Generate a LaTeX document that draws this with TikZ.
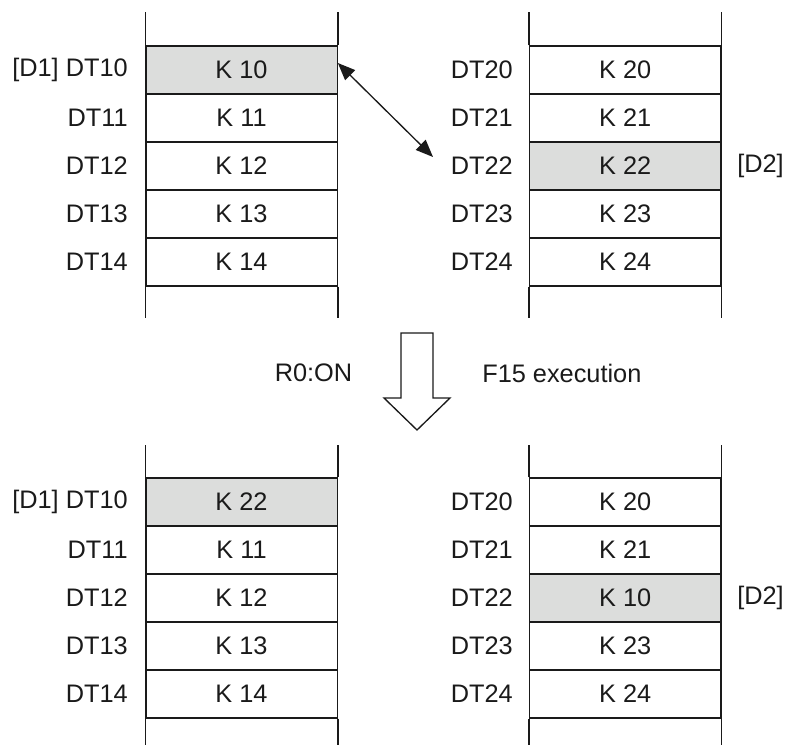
\documentclass[tikz,border=0pt]{standalone}
\usepackage{fontspec}
\setmainfont{Liberation Sans}
\usetikzlibrary{arrows.meta}
\definecolor{ink}{HTML}{1A1A1A}
\definecolor{cellgray}{HTML}{DCDDDC}

\begin{document}
\begin{tikzpicture}[x=0.75pt,y=-0.75pt,
  every node/.style={font=\fontsize{19}{22}\selectfont,text=ink},
  cell/.style={draw=ink,line width=1pt,minimum width=143.5pt,minimum height=36pt,inner sep=0pt},
  hit/.style={cell,fill=cellgray},
  reg/.style={anchor=east,inner sep=0pt},
  rail/.style={draw=ink,line width=1pt},
  swap/.style={{Triangle[length=13pt,width=10.5pt]}-{Triangle[length=13pt,width=10.5pt]},line width=1pt,ink}]
  \useasboundingbox (0,0) rectangle (788,745);
  % before F15
  \foreach \i/\y/\sa/\sb in {0/70/hit/cell,1/118/cell/cell,2/166/cell/hit,3/214/cell/cell,4/262/cell/cell}{
    \node[\sa] (a\i) at (241.5,\y) {K 1\i};
    \node[\sb] (b\i) at (625.25,\y) {K 2\i};
    \node[reg] (la\i) at (128,\y) {\ifnum\i=0 [D1] \fi DT1\i};
    \node[reg] (lb\i) at (513,\y) {DT2\i};
  }
  \node[anchor=west,inner sep=0pt] (da) at (737,166) {[D2]};
  \draw[rail] (a0.north west) -- ++(0,-33) (a0.north east) -- ++(0,-33);
  \draw[rail] (a4.south west) -- ++(0,31) (a4.south east) -- ++(0,31);
  \draw[rail] (b0.north west) -- ++(0,-33) (b0.north east) -- ++(0,-33);
  \draw[rail] (b4.south west) -- ++(0,31) (b4.south east) -- ++(0,31);
  \coordinate (swaptip) at (433,157);
  \draw[swap] ([yshift=5.25pt]a0.east) -- (swaptip);
  % R0 on
  \draw[rail,fill=white] (401,333) -- (433,333) -- (433,398) -- (450,398) -- (417,430) -- (384,398) -- (401,398) -- cycle;
  \node (on) at (313.5,373) {R0:ON};
  \node[anchor=west,inner sep=0pt] (exec) at (482,373) {F15 execution};
  % after F15
  \foreach \i/\y/\sa/\sb/\ka/\kb in {0/502/hit/cell/22/20,1/550/cell/cell/11/21,2/598/cell/hit/12/10,3/646/cell/cell/13/23,4/694/cell/cell/14/24}{
    \node[\sa] (c\i) at (241.5,\y) {K \ka};
    \node[\sb] (d\i) at (625.25,\y) {K \kb};
    \node[reg] (lc\i) at (128,\y) {\ifnum\i=0 [D1] \fi DT1\i};
    \node[reg] (ld\i) at (513,\y) {DT2\i};
  }
  \node[anchor=west,inner sep=0pt] (db) at (737,598) {[D2]};
  \draw[rail] (c0.north west) -- ++(0,-32) (c0.north east) -- ++(0,-32);
  \draw[rail] (c4.south west) -- ++(0,27) (c4.south east) -- ++(0,27);
  \draw[rail] (d0.north west) -- ++(0,-32) (d0.north east) -- ++(0,-32);
  \draw[rail] (d4.south west) -- ++(0,27) (d4.south east) -- ++(0,27);
\end{tikzpicture}
\end{document}
